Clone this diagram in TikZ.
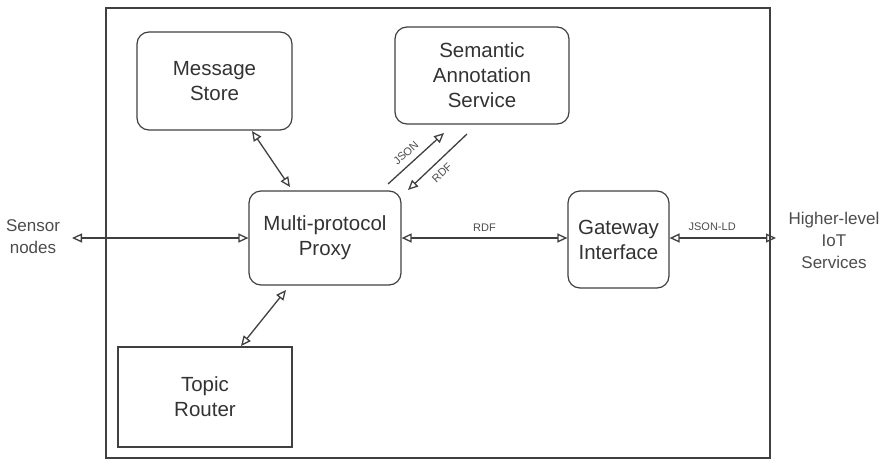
\documentclass[tikz,border=0pt]{standalone}
\usepackage{fontspec}
\setmainfont{Liberation Sans}
\usepackage{tikz}
\usetikzlibrary{arrows.meta,positioning}

\tikzset{
  blk/.style={draw=black!75, line width=1.2pt, rounded corners=12pt, align=center, font=\fontsize{20.5}{25}\selectfont, text=black!80},
  biarr/.style={{Triangle[open,length=10pt,width=9pt]}-{Triangle[open,length=10pt,width=9pt]}, draw=black!75, line width=1.3pt},
  lbl/.style={font=\fontsize{11}{13}\selectfont, text=black!70},
  side/.style={align=center, font=\fontsize{17}{22}\selectfont, text=black!70}
}

\begin{document}
\begin{tikzpicture}[x=1pt,y=-1pt]
\useasboundingbox (0,0) rectangle (887,472);
\draw[black!75, line width=1.2pt] (106,8) rectangle (770,458);
\node[blk, minimum width=155pt, minimum height=98pt] (store) at (214.5,81) {Message\\Store};
\node[blk, minimum width=174pt, minimum height=97pt] (sas) at (482,75.5) {Semantic\\Annotation\\Service};
\node[blk, minimum width=152pt, minimum height=94pt] (proxy) at (325,238) {Multi-protocol\\Proxy};
\node[blk, minimum width=101pt, minimum height=97pt] (gw) at (618.5,239.5) {Gateway\\Interface};
\node[blk, rounded corners=0pt, minimum width=174pt, minimum height=100pt] (router) at (205,397) {Topic\\Router};
\node[side] (sensor) at (33,237) {Sensor\\nodes};
\node[side] (higher) at (834,240) {Higher-level\\IoT\\Services};
\coordinate (sl) at (72,238);
\coordinate (hr) at (776,238);
\draw[biarr] (sl) -- (proxy.west |- sl);
\draw[biarr] (proxy.east |- sl) -- node[lbl, above=3pt] {RDF} (gw.west |- sl);
\draw[biarr] (gw.east |- sl) -- node[lbl, above=3pt, pos=0.4] {JSON-LD} (hr);
\draw[biarr] (252,131) -- (290,187);
\draw[biarr] (286,290) -- (241,346);
\draw[biarr, -{Triangle[open,length=10pt,width=9pt]}] (388,184) -- node[lbl, sloped, above=3pt, pos=0.45] {JSON} (444,133);
\draw[biarr, -{Triangle[open,length=10pt,width=9pt]}] (467,134) -- node[lbl, sloped, below=3pt, pos=0.55] {RDF} (408,190);
\end{tikzpicture}
\end{document}
